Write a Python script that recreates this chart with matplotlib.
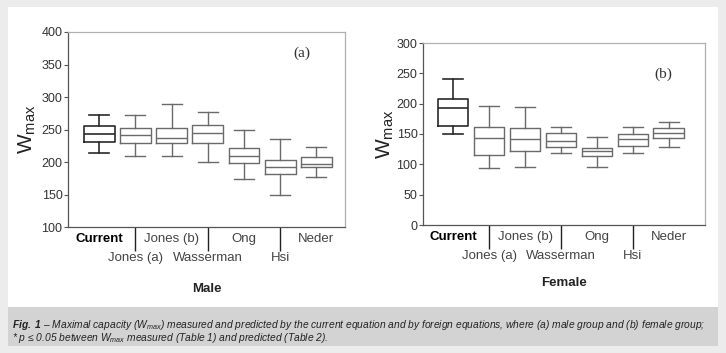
import matplotlib.pyplot as plt
from matplotlib.patches import Rectangle

# category names, same order in both panels
methods = ["Current", "Jones (a)", "Jones (b)", "Wasserman", "Ong", "Hsi", "Neder"]

# male group: whisker low, q1, median, q3, whisker high
male_whislo = [214, 210, 209, 200, 174, 150, 177]
male_q1 = [231, 229, 229, 230, 198, 181, 193]
male_med = [243, 242, 237, 245, 209, 193, 197]
male_q3 = [255, 253, 253, 257, 221, 203, 208]
male_whishi = [273, 273, 289, 277, 250, 235, 223]

# female group
female_whislo = [150, 94, 95, 118, 95, 118, 129]
female_q1 = [163, 116, 122, 129, 113, 130, 143]
female_med = [193, 143, 141, 139, 122, 142, 152]
female_q3 = [207, 161, 160, 151, 127, 150, 160]
female_whishi = [240, 196, 194, 161, 145, 161, 170]

W, H = 726, 353


def fx(px):
    return px / W


def fy(py):
    return 1 - py / H


def stats(lo, q1, med, q3, hi):
    return [dict(whislo=a, q1=b, med=c, q3=d, whishi=e, fliers=[])
            for a, b, c, d, e in zip(lo, q1, med, q3, hi)]


def draw_panel(ax, data, ylim, yticks, xlim, xlabel, tag, tagpos):
    pos = list(range(1, len(methods) + 1))
    for i, s in enumerate(data):
        col = "#2a2a2a" if i == 0 else "#6a6a6a"
        lw = 1.2 if i == 0 else 1.0
        ax.bxp([s], positions=[pos[i]], widths=0.85, capwidths=0.55,
               showfliers=False,
               boxprops=dict(color=col, lw=lw),
               whiskerprops=dict(color=col, lw=lw),
               capprops=dict(color=col, lw=lw),
               medianprops=dict(color=col, lw=lw))
    ax.set_xlim(*xlim)
    ax.set_ylim(*ylim)
    ax.set_yticks(yticks)
    ax.tick_params(axis="y", labelsize=9, labelcolor="#333333", color="#555555",
                   length=3, width=0.8, pad=1)
    # two-row category labels: odd ones on top row, even ones hang on long ticks
    ax.set_xticks(pos[0::2])
    ax.set_xticklabels(methods[0::2])
    ax.set_xticks(pos[1::2], minor=True)
    ax.set_xticklabels(methods[1::2], minor=True)
    ax.tick_params(axis="x", which="major", length=0, pad=4, labelsize=9.5,
                   labelcolor="#444444")
    ax.tick_params(axis="x", which="minor", length=17, width=1.0, color="#222222",
                   pad=1, labelsize=9.5, labelcolor="#444444")
    ax.get_xticklabels()[0].set_color("black")
    ax.get_xticklabels()[0].set_fontweight("bold")
    for side in ["left", "bottom"]:
        ax.spines[side].set_color("#555555")
        ax.spines[side].set_linewidth(0.9)
    for side in ["top", "right"]:
        ax.spines[side].set_color("#b0b0b0")
        ax.spines[side].set_linewidth(0.9)
    ax.set_ylabel(r"W$_{\rm max}$", fontsize=15, color="#222222")
    ax.set_xlabel(xlabel, fontsize=9.5, fontweight="bold", color="#222222")
    ax.text(tagpos[0], tagpos[1], tag, transform=ax.transAxes, family="Liberation Serif",
            fontsize=11, color="#333333", ha="center", va="center")


plt.rcParams["font.family"] = ["Liberation Sans", "DejaVu Sans"]
plt.rcParams["mathtext.fontset"] = "custom"
plt.rcParams["mathtext.rm"] = "Liberation Sans"
plt.rcParams["mathtext.it"] = "Liberation Sans:italic"
plt.rcParams["mathtext.bf"] = "Liberation Sans:italic:bold"

fig = plt.figure(figsize=(W / 100, H / 100), dpi=100, facecolor="#ececec")

# page panels
fig.patches.append(Rectangle((fx(8), fy(307)), fx(710), 300 / H, transform=fig.transFigure,
                             facecolor="white", edgecolor="none", zorder=-5))
fig.patches.append(Rectangle((fx(8), fy(346)), fx(710), 39 / H, transform=fig.transFigure,
                             facecolor="#d3d3d3", edgecolor="none", zorder=-5))

ax1 = fig.add_axes([fx(68), fy(227), fx(277), 195 / H])
draw_panel(ax1, stats(male_whislo, male_q1, male_med, male_q3, male_whishi),
           (100, 400), range(100, 401, 50), (0.14, 7.79), "Male", "(a)", (0.845, 0.89))
ax1.yaxis.set_label_coords(-0.108, 0.5)
ax1.xaxis.set_label_coords(0.5, -0.285)

ax2 = fig.add_axes([fx(423), fy(225), fx(282), 182 / H])
draw_panel(ax2, stats(female_whislo, female_q1, female_med, female_q3, female_whishi),
           (0, 300), range(0, 301, 50), (0.16, 8.01), "Female", "(b)", (0.851, 0.827))
ax2.yaxis.set_label_coords(-0.095, 0.5)
ax2.xaxis.set_label_coords(0.5, -0.283)

cap1 = (r"$\mathbf{Fig.\ 1}$ – Maximal capacity ($W_{max}$) measured and predicted by the "
        "current equation and by foreign equations, where (a) male group and (b) female group;")
cap2 = r"* p ≤ 0.05 between $W_{max}$ measured (Table 1) and predicted (Table 2)."
fig.text(fx(12), fy(325), cap1, fontsize=7.4, style="italic", color="#222222", va="center")
fig.text(fx(12), fy(338), cap2, fontsize=7.4, style="italic", color="#222222", va="center")

fig.savefig("out.png", dpi=100, facecolor=fig.get_facecolor())
